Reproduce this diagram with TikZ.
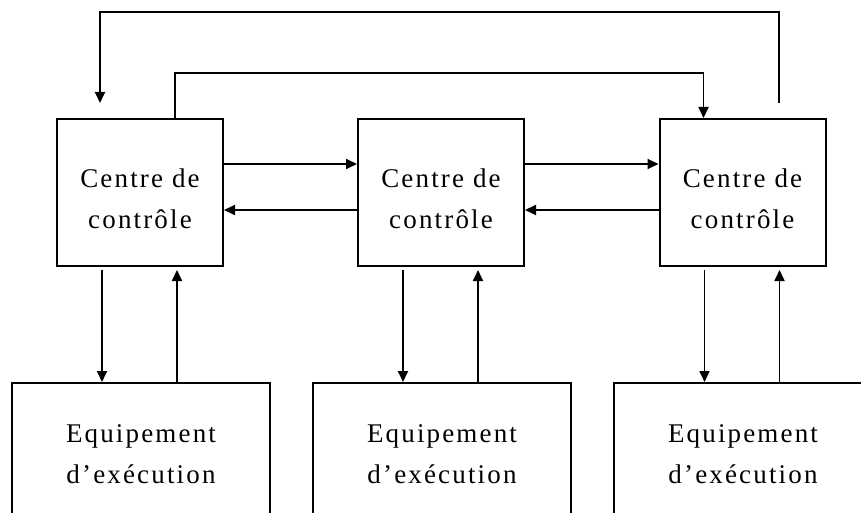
\documentclass[tikz,border=0pt]{standalone}
\usepackage{fontspec}
\newfontfamily\lblfont[LetterSpace=8]{Liberation Serif}
\usetikzlibrary{arrows.meta}
\begin{document}
\begin{tikzpicture}[x=1pt, y=-1pt,
  line join=miter,
  ctrlbox/.style={draw, line width=2pt, minimum width=166pt, minimum height=147pt, inner sep=0pt},
  equipbox/.style={draw, line width=2pt, minimum width=258pt, minimum height=160pt, inner sep=0pt},
  lbl/.style={align=center, inner sep=0pt, font=\lblfont\fontsize{27}{41}\selectfont},
  link/.style={line width=1.8pt, -{Triangle[length=11pt, width=10pt]}}]
  \useasboundingbox (0,0) rectangle (861,513);
  \clip (0,0) rectangle (861,513);

  % control centres
  \node[ctrlbox] (c1) at (140,192.5) {};
  \node[ctrlbox] (c2) at (441,192.5) {};
  \node[ctrlbox] (c3) at (742.5,192.5) {};
  \node[lbl] (l1) at (140,198.3) {Centre de\\contrôle};
  \node[lbl] (l2) at (441,198.3) {Centre de\\contrôle};
  \node[lbl] (l3) at (742.5,198.3) {Centre de\\contrôle};

  % execution equipment (cut off by the lower edge)
  \node[equipbox, anchor=north] (e1) at (141,382) {};
  \node[equipbox, anchor=north] (e2) at (442,382) {};
  \node[equipbox, anchor=north] (e3) at (743,382) {};
  \node[lbl] (m1) at (141,454.3) {Equipement\\d’exécution};
  \node[lbl] (m2) at (442,454.3) {Equipement\\d’exécution};
  \node[lbl] (m3) at (743,454.3) {Equipement\\d’exécution};

  % links between neighbouring centres
  \draw[link] ([yshift=28.5pt]c1.east) -- ([yshift=28.5pt]c2.west);
  \draw[link] ([yshift=28.5pt]c2.east) -- ([yshift=28.5pt]c3.west);
  \draw[link] ([yshift=-17.5pt]c2.west) -- ([yshift=-17.5pt]c1.east);
  \draw[link] ([yshift=-17.5pt]c3.west) -- ([yshift=-17.5pt]c2.east);

  % centre <-> equipment
  \foreach \c/\e in {c1/e1, c2/e2, c3/e3} {
    \draw[link, shorten <=3pt] ([xshift=-38pt]\c.south) -- ([xshift=-38pt]\c.south |- \e.north);
    \draw[link, shorten >=3pt] ([xshift=37pt]\c.south |- \e.north) -- ([xshift=37pt]\c.south);
  }

  % inner loop: first centre to third centre
  \coordinate (t2) at (0,73);
  \draw[link] ([xshift=35pt]c1.north) |- ([xshift=-39pt]c3.north |- t2) -- ([xshift=-39pt]c3.north);

  % outer loop: third centre back to first centre
  \coordinate (t1) at (0,12);
  \coordinate (o3) at (779,103);
  \coordinate (o1) at (100,103);
  \draw[link] (o3) |- (o1 |- t1) -- (o1);
\end{tikzpicture}
\end{document}
